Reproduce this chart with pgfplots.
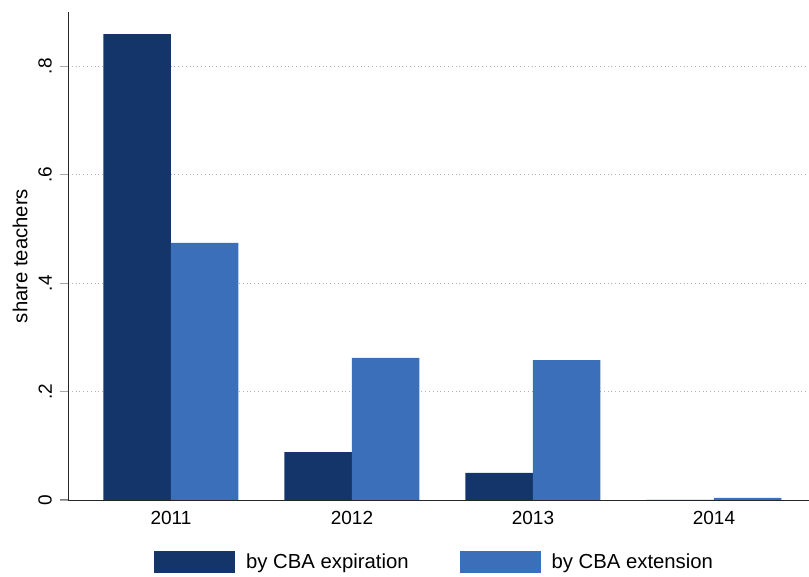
\documentclass[border=0pt]{standalone}
\usepackage{pgfplots}
\pgfplotsset{compat=1.18}
\usepackage{fontspec}
\setmainfont{Liberation Sans}
\definecolor{cdark}{HTML}{13356A}
\definecolor{clight}{HTML}{3C6FBA}
\begin{document}
\begin{tikzpicture}[x=1pt,y=1pt]
\useasboundingbox (0,0) rectangle (809,577);
\begin{axis}[
  at={(68pt,77pt)}, anchor=south west,
  scale only axis, width=741pt, height=488pt,
  clip=false,
  ybar=0pt, bar width=67.5pt,
  xmin=-0.569, xmax=3.525, ymin=0, ymax=0.9,
  axis x line*=bottom, axis y line*=left,
  axis line style={line width=0.9pt, black!85},
  tick align=outside, tickwidth=8pt,
  xtick={0,1,2,3}, xticklabels={2011,2012,2013,2014},
  xtick style={draw=none},
  ytick={0,0.2,0.4,0.6,0.8},
  ytick style={color=gray, line width=1pt},
  yticklabel shift=8pt,
  yticklabel style={rotate=90, anchor=south, font=\fontsize{19}{21}\selectfont, inner sep=0pt},
  yticklabel={\pgfmathprintnumber[fixed,precision=1,skip 0.]{\tick}},
  /pgf/number format/assume math mode=true,
  xticklabel style={font=\fontsize{19}{21}\selectfont, inner sep=0pt, yshift=-3pt},
  ymajorgrids, grid style={dash pattern=on 0.8pt off 3pt, gray!60, line width=0.9pt},
  ylabel={share teachers},
  ylabel style={font=\fontsize{20.3}{22}\selectfont, at={(rel axis cs:0,0.5)}, anchor=center, yshift=48pt},
  legend style={at={(rel axis cs:0.116,-0.1045)}, anchor=north west, draw=none, inner sep=0pt,
     legend columns=2, font=\fontsize{20.3}{22}\selectfont,
     /tikz/every even column/.append style={column sep=49pt}},
  legend image code/.code={\fill[#1,draw=none] (0pt,-11pt) rectangle (81pt,11pt); \path (90pt,0pt);},
  legend cell align=left,
]
\addplot[fill=cdark, draw=none] coordinates {(0,0.859) (1,0.0885) (2,0.050) (3,0)};
\addplot[fill=clight, draw=none] coordinates {(0,0.474) (1,0.262) (2,0.258) (3,0.004)};
\legend{by CBA expiration, by CBA extension}
\pgfplotsinvokeforeach{0,0.2,0.4,0.6,0.8}{
  \draw[gray!70, line width=0.9pt] (axis cs:-0.569,#1) -- ++(-8pt,0pt);
}
\end{axis}
\end{tikzpicture}
\end{document}
